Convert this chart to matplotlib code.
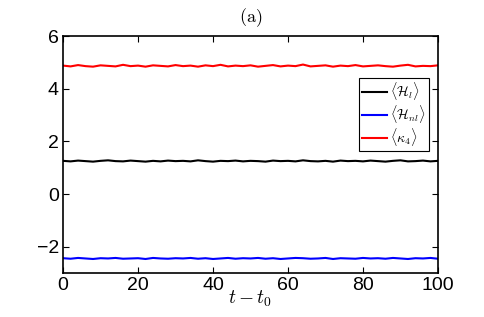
import matplotlib
matplotlib.use("Agg")
import matplotlib.pyplot as plt
import numpy as np

plt.rcParams['mathtext.fontset'] = 'cm'
plt.rcParams['font.family'] = ['Liberation Sans', 'DejaVu Sans']

# time samples and hand-read values (small fluctuations around the mean)
t = list(range(0, 101, 2))
h_l = [1.26, 1.24, 1.27, 1.25, 1.23, 1.26, 1.28, 1.25, 1.24, 1.27, 1.25, 1.23, 1.26, 1.24, 1.27,
       1.25, 1.26, 1.24, 1.28, 1.25, 1.23, 1.26, 1.25, 1.27, 1.24, 1.26, 1.25, 1.23, 1.27, 1.25,
       1.26, 1.24, 1.28, 1.25, 1.24, 1.26, 1.23, 1.27, 1.25, 1.26, 1.24, 1.27, 1.25, 1.23, 1.26,
       1.28, 1.24, 1.25, 1.27, 1.24, 1.26]
h_nl = [-2.44, -2.46, -2.43, -2.45, -2.47, -2.44, -2.45, -2.43, -2.46, -2.45, -2.44, -2.47, -2.43,
        -2.45, -2.46, -2.44, -2.45, -2.43, -2.46, -2.44, -2.47, -2.45, -2.43, -2.46, -2.44, -2.45,
        -2.43, -2.46, -2.44, -2.47, -2.45, -2.43, -2.44, -2.46, -2.45, -2.43, -2.47, -2.44, -2.45,
        -2.46, -2.43, -2.45, -2.44, -2.46, -2.43, -2.45, -2.47, -2.44, -2.45, -2.43, -2.46]
kappa4 = [4.88, 4.85, 4.90, 4.86, 4.84, 4.89, 4.87, 4.85, 4.91, 4.86, 4.88, 4.84, 4.89, 4.87,
          4.85, 4.90, 4.86, 4.88, 4.84, 4.89, 4.86, 4.91, 4.85, 4.88, 4.86, 4.89, 4.84, 4.87,
          4.90, 4.85, 4.88, 4.86, 4.92, 4.85, 4.87, 4.89, 4.84, 4.88, 4.86, 4.90, 4.85, 4.87,
          4.89, 4.86, 4.84, 4.88, 4.91, 4.85, 4.87, 4.86, 4.89]

fig = plt.figure(figsize=(4.85, 3.17), dpi=100)
ax = fig.add_axes([0.13, 0.139, 0.773, 0.747])

ax.plot(t, h_l, color='black', lw=1.5, label=r'$\langle\mathcal{H}_l\rangle$')
ax.plot(t, h_nl, color='blue', lw=1.5, label=r'$\langle\mathcal{H}_{nl}\rangle$')
ax.plot(t, kappa4, color='red', lw=1.5, label=r'$\langle\kappa_4\rangle$')

ax.set_xlim(0, 100)
ax.set_ylim(-3, 6)
ax.set_xticks([0, 20, 40, 60, 80, 100])
ax.set_yticks([-2, 0, 2, 4, 6])
ax.set_yticklabels(['\u22122', '0', '2', '4', '6'])
ax.tick_params(direction='in', top=True, right=True, labelsize=14, length=4, pad=3)
for s in ax.spines.values():
    s.set_linewidth(1.2)

ax.set_xlabel(r'$t - t_0$', fontsize=14, labelpad=-4)
ax.set_title(r'$\mathrm{(a)}$', fontsize=13, pad=10)

leg = ax.legend(loc='upper right', bbox_to_anchor=(0.975, 0.825), fontsize=10,
                fancybox=False, edgecolor='black', handlelength=1.8,
                handletextpad=0.25, borderpad=0.2, labelspacing=0.05, framealpha=1,
                borderaxespad=0)
leg.get_frame().set_linewidth(0.8)

fig.savefig('out.png', dpi=100)
